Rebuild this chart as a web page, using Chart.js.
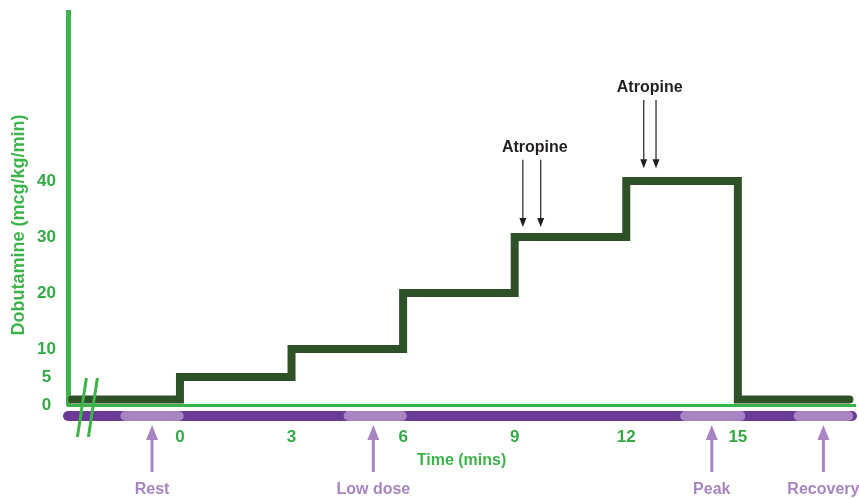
<!DOCTYPE html>
<html>
<head>
<meta charset="utf-8">
<script src="https://cdn.jsdelivr.net/npm/chart.js@4"></script>
<style>
  html, body { margin: 0; padding: 0; background: #fff; }
  #wrap { width: 859px; height: 499px; }
</style>
</head>
<body>
<div id="wrap"><canvas id="stress-chart"></canvas></div>
<script>
// dobutamine protocol (minutes -> mcg/kg/min), each value holds until the next point
const minutes = [-2.9, 0, 3, 6, 9, 12, 15, 18];
const doseValues = [1, 5, 10, 20, 30, 40, 1, 1];

const xTickValues = [0, 3, 6, 9, 12, 15];
const yTickValues = [0, 5, 10, 20, 30, 40];

// phases along the time bar
const phaseLabels = ['Rest', 'Low dose', 'Peak', 'Recovery'];
const phaseStart = [-1.6, 4.4, 13.45, 16.5];
const phaseEnd = [0.1, 6.1, 15.2, 18.1];
const phaseArrowAt = [-0.75, 5.2, 14.3, 17.3];

// atropine markers
const atropineLabels = ['Atropine', 'Atropine'];
const atropineLabelAt = [9.54, 12.63];
const atropineArrowsAt = [[9.22, 9.7], [12.47, 12.8]];
const atropineArrowFrom = [43.8, 54.5];
const atropineArrowTo = [31.8, 42.3];

const green = '#3cb44a';
const tickGreen = '#36a947';
const darkGreen = '#2f5128';
const purple = '#6a3a96';
const lightPurple = '#a885c2';
const font = "'Liberation Sans', Arial, sans-serif";

const extras = {
  id: 'extras',
  afterDraw(chart) {
    const { ctx, chartArea, scales } = chart;
    const x = scales.x, y = scales.y;
    ctx.save();

    // y axis title
    ctx.save();
    ctx.translate(19, 225);
    ctx.rotate(-Math.PI / 2);
    ctx.font = 'bold 18px ' + font;
    ctx.fillStyle = green;
    ctx.textAlign = 'center';
    ctx.textBaseline = 'middle';
    ctx.fillText('Dobutamine (mcg/kg/min)', 0, 0);
    ctx.restore();

    // time bar with phases
    const barY = chartArea.bottom + 11;
    ctx.lineCap = 'round';
    ctx.lineWidth = 10;
    ctx.strokeStyle = purple;
    ctx.beginPath();
    ctx.moveTo(chartArea.left, barY);
    ctx.lineTo(chartArea.right - 3, barY);
    ctx.stroke();

    ctx.strokeStyle = lightPurple;
    phaseLabels.forEach((label, i) => {
      const a = x.getPixelForValue(phaseStart[i]) + 5;
      const b = x.getPixelForValue(phaseEnd[i]) - 5;
      ctx.beginPath();
      ctx.moveTo(a, barY);
      ctx.lineTo(b, barY);
      ctx.stroke();

      const px = x.getPixelForValue(phaseArrowAt[i]);
      ctx.lineCap = 'butt';
      ctx.lineWidth = 3;
      ctx.beginPath();
      ctx.moveTo(px, 472);
      ctx.lineTo(px, 436);
      ctx.stroke();
      ctx.fillStyle = lightPurple;
      ctx.beginPath();
      ctx.moveTo(px, 425);
      ctx.lineTo(px - 6, 440);
      ctx.lineTo(px + 6, 440);
      ctx.closePath();
      ctx.fill();

      ctx.font = 'bold 16px ' + font;
      ctx.textAlign = 'center';
      ctx.textBaseline = 'middle';
      ctx.fillText(label, px, 490);
      ctx.lineCap = 'round';
      ctx.lineWidth = 10;
    });

    // atropine arrows
    atropineLabels.forEach((label, i) => {
      ctx.fillStyle = '#231f20';
      ctx.font = 'bold 16px ' + font;
      ctx.textAlign = 'center';
      ctx.textBaseline = 'middle';
      const top = y.getPixelForValue(atropineArrowFrom[i]);
      const tip = y.getPixelForValue(atropineArrowTo[i]);
      ctx.fillText(label, x.getPixelForValue(atropineLabelAt[i]), top - 12);
      ctx.strokeStyle = '#231f20';
      ctx.lineWidth = 1.2;
      ctx.lineCap = 'butt';
      atropineArrowsAt[i].forEach(v => {
        const px = x.getPixelForValue(v);
        ctx.beginPath();
        ctx.moveTo(px, top);
        ctx.lineTo(px, tip - 6);
        ctx.stroke();
        ctx.beginPath();
        ctx.moveTo(px, tip);
        ctx.lineTo(px - 3.5, tip - 9);
        ctx.lineTo(px + 3.5, tip - 9);
        ctx.closePath();
        ctx.fill();
      });
    });

    // axis break marks
    ctx.strokeStyle = green;
    ctx.lineWidth = 3;
    ctx.lineCap = 'butt';
    const bx = x.getPixelForValue(-2.65);
    const by = y.getPixelForValue(0);
    [0, 11].forEach(off => {
      ctx.beginPath();
      ctx.moveTo(bx + off + 5, by - 27);
      ctx.lineTo(bx + off - 4, by + 32);
      ctx.stroke();
    });

    ctx.restore();
  }
};

new Chart(document.getElementById('stress-chart'), {
  type: 'line',
  data: {
    datasets: [{
      data: minutes.map((m, i) => ({ x: m, y: doseValues[i] })),
      stepped: 'before',
      borderColor: darkGreen,
      borderWidth: 8,
      borderCapStyle: 'round',
      borderJoinStyle: 'miter',
      pointRadius: 0,
      fill: false
    }]
  },
  options: {
    responsive: true,
    maintainAspectRatio: false,
    animation: false,
    layout: { padding: { top: 12, right: 4, left: 0, bottom: 0 } },
    plugins: { legend: { display: false }, tooltip: { enabled: false } },
    scales: {
      x: {
        type: 'linear',
        min: -3.01,
        max: 18.15,
        grid: { display: false, drawTicks: false },
        border: { color: green, width: 3 },
        afterBuildTicks: scale => { scale.ticks = xTickValues.map(v => ({ value: v })); },
        afterFit: scale => { scale.height = 94; scale.paddingLeft = 0; scale.paddingRight = 0; },
        ticks: { color: tickGreen, font: { family: font, size: 17, weight: 'bold' }, padding: 22, maxRotation: 0 },
        title: { display: true, text: 'Time (mins)', color: green, font: { family: font, size: 16, weight: 'bold' }, padding: { top: 0, bottom: 29 } }
      },
      y: {
        min: 0,
        max: 70.2,
        grid: { display: false, drawTicks: false },
        border: { color: green, width: 5 },
        afterBuildTicks: scale => { scale.ticks = yTickValues.map(v => ({ value: v })); },
        afterFit: scale => { scale.width = 68; scale.paddingTop = 0; scale.paddingBottom = 0; },
        ticks: { color: tickGreen, font: { family: font, size: 17, weight: 'bold' }, padding: 12, crossAlign: 'center' }
      }
    }
  },
  plugins: [extras]
});
</script>
</body>
</html>
